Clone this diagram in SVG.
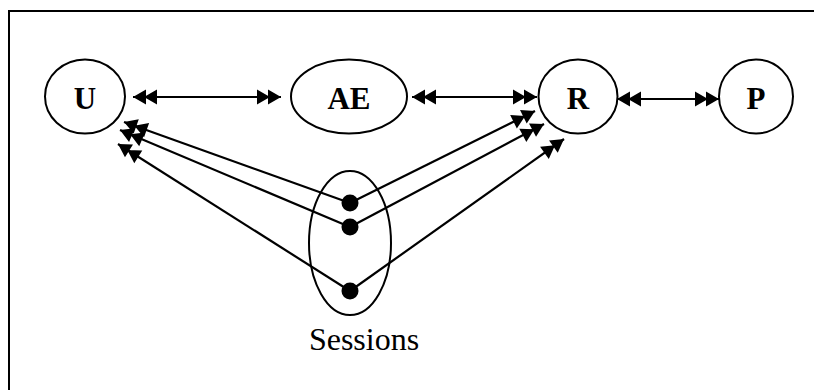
<svg xmlns="http://www.w3.org/2000/svg" width="814" height="390" viewBox="0 0 814 390">
<style>
.node{fill:#fff;stroke:#000;stroke-width:2}
.lbl{font-family:"Liberation Serif",serif;font-size:31px;font-weight:bold;text-anchor:middle;fill:#000}
.edge{stroke:#000;stroke-width:2.2;fill:none}
.dot{fill:#000}
</style>
<defs>
<marker id="dbl" markerUnits="userSpaceOnUse" markerWidth="30" markerHeight="20" viewBox="-28 -10 30 20" refX="0" refY="0" orient="auto-start-reverse">
<path d="M0,0 L-13,-7.5 L-13,7.5 Z M-11,0 L-24,-7.5 L-24,7.5 Z" fill="#000"/>
</marker>
</defs>
<path d="M9,400 L9,11 L820,11" fill="none" stroke="#000" stroke-width="2"/>
<g id="connectors">
<line class="edge" x1="133" y1="97" x2="281" y2="97" marker-start="url(#dbl)" marker-end="url(#dbl)"/>
<line class="edge" x1="412" y1="97" x2="537" y2="97" marker-start="url(#dbl)" marker-end="url(#dbl)"/>
<line class="edge" x1="617" y1="99" x2="719" y2="99" marker-start="url(#dbl)" marker-end="url(#dbl)"/>
<line class="edge" x1="350" y1="203" x2="124" y2="122" marker-end="url(#dbl)"/>
<line class="edge" x1="350" y1="227" x2="120" y2="130" marker-end="url(#dbl)"/>
<line class="edge" x1="350" y1="291" x2="118" y2="144" marker-end="url(#dbl)"/>
<line class="edge" x1="350" y1="203" x2="535" y2="111" marker-end="url(#dbl)"/>
<line class="edge" x1="350" y1="227" x2="544" y2="124" marker-end="url(#dbl)"/>
<line class="edge" x1="350" y1="291" x2="564" y2="139" marker-end="url(#dbl)"/>
</g>
<g id="U"><ellipse class="node" cx="85" cy="96.5" rx="40" ry="37"/><text class="lbl" x="85" y="108.5">U</text></g>
<g id="AE"><ellipse class="node" cx="349" cy="96.5" rx="58" ry="37"/><text class="lbl" x="349" y="108.5">AE</text></g>
<g id="R"><ellipse class="node" cx="578" cy="96.5" rx="39.5" ry="37"/><text class="lbl" x="578" y="108.5">R</text></g>
<g id="P"><ellipse class="node" cx="756" cy="96.5" rx="37" ry="37"/><text class="lbl" x="756" y="108.5">P</text></g>
<g id="Sessions">
<ellipse cx="350" cy="243" rx="41" ry="72" fill="none" stroke="#000" stroke-width="2"/>
<circle class="dot" cx="350" cy="203" r="8.5"/>
<circle class="dot" cx="350" cy="227" r="8.5"/>
<circle class="dot" cx="350" cy="291" r="8.5"/>
<text x="364" y="350" font-family="'Liberation Serif',serif" font-size="32" text-anchor="middle" fill="#000">Sessions</text>
</g>
</svg>
